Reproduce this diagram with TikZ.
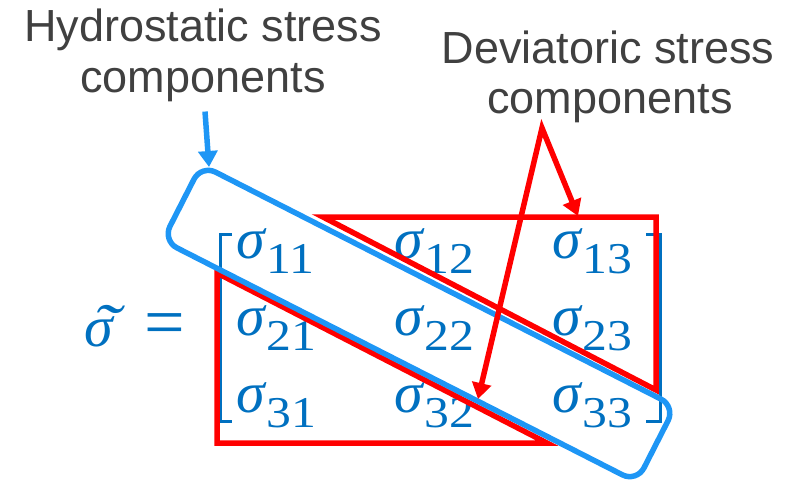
\documentclass[tikz,border=0pt]{standalone}
\usepackage{graphicx}
\usepackage{fontspec}
\newfontfamily\lab{Liberation Sans}
\newfontfamily\mser{Liberation Serif}
\usetikzlibrary{arrows.meta}
\definecolor{txtgray}{RGB}{64,64,64}
\definecolor{mblue}{RGB}{0,112,192}
\definecolor{hblue}{RGB}{30,150,245}
\newcommand\sg[1]{{\mser\fontsize{58}{58}\selectfont\itshape σ}\kern2pt\raisebox{-15pt}{\scalebox{1.13}[1]{\mser\fontsize{44}{44}\selectfont #1}}}
\tikzset{tipA/.tip={Triangle[width=19pt,length=16pt]}}
\begin{document}
\begin{tikzpicture}[x=1pt,y=-1pt,
  lbl/.style={font=\lab\fontsize{45}{45}\selectfont, text=txtgray, inner sep=0pt, anchor=base},
  ent/.style={text=mblue, inner sep=0pt, anchor=base west},
  redln/.style={draw=red, line width=5.5pt, line join=miter},
  brk/.style={draw=mblue, line width=3pt}]
\path[use as bounding box] (0,0) rectangle (795,482);

% labels
\node[lbl] (h1) at (203,41) {Hydrostatic stress};
\node[lbl] (h2) at (203,92) {components};
\node[lbl] (d1) at (608,63) {Deviatoric stress};
\node[lbl] (d2) at (610,113) {components};

% equation
\node[ent] (lhs) at (84,346) {\mser\fontsize{58}{58}\selectfont\itshape\rlap{\raisebox{-2pt}{\kern8pt\scalebox{1.3}[1]{\fontsize{64}{64}\selectfont\char"02DC}}}σ};
\node[ent] (eq) at (144,346) {\mser\fontsize{72}{72}\selectfont =};
\node[ent] (s11) at (236,258) {\sg{11}};
\node[ent] (s12) at (394,258) {\sg{12}};
\node[ent] (s13) at (552,258) {\sg{13}};
\node[ent] (s21) at (236,335) {\sg{21}};
\node[ent] (s22) at (394,335) {\sg{22}};
\node[ent] (s23) at (552,335) {\sg{23}};
\node[ent] (s31) at (236,412) {\sg{31}};
\node[ent] (s32) at (394,412) {\sg{32}};
\node[ent] (s33) at (552,412) {\sg{33}};
\draw[brk] (232,234) -- (220,234) -- (220,421) -- (232,421);
\draw[brk] (646,234) -- (660,234) -- (660,421) -- (646,421);

% deviatoric triangles
\draw[redln] (323,217) -- (656,217) -- (656,390) -- cycle;
\draw[redln] (217,273) -- (217,443) -- (547,443) -- cycle;

% hydrostatic box
\node[draw=hblue, line width=5.5pt, rounded corners=16pt, minimum width=532pt,
      minimum height=85pt, rotate=-27.0, inner sep=0pt] (hbox) at (419,323.5) {};

% arrows
\coordinate (htip) at (209,167);
\draw[hblue, line width=5.5pt, -{tipA}] ([xshift=2pt,yshift=-10pt]h2.south) -- (htip);
\coordinate (apex) at (542,128);
\coordinate (rtip) at (578,216);
\coordinate (ltip) at (478,399);
\draw[red, line width=5.5pt, line join=miter, {tipA}-{tipA}] (rtip) -- (apex) -- (ltip);
\end{tikzpicture}
\end{document}
